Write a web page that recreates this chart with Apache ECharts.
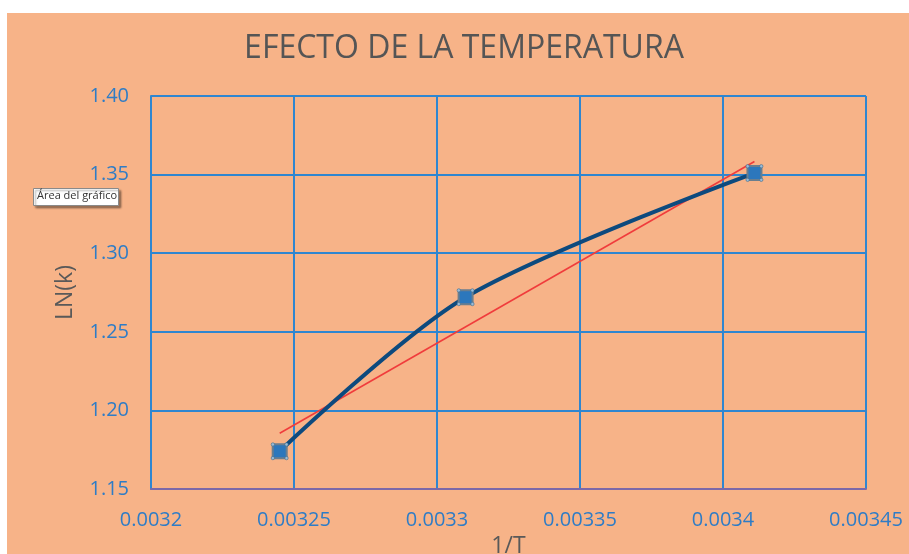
<!DOCTYPE html>
<html>
<head>
<meta charset="utf-8">
<script src="https://cdn.jsdelivr.net/npm/echarts@6/dist/echarts.min.js"></script>
<style>
  html, body { margin: 0; padding: 0; background: #ffffff; width: 909px; height: 554px; overflow: hidden; }
  #chart { position: absolute; left: 7px; top: 13px; width: 902px; height: 541px; }
</style>
</head>
<body>
<div id="chart"></div>
<script>
// Measured points: reciprocal temperature vs ln of the rate constant
const invT = [0.003245, 0.00331, 0.003411];
const lnK = [1.174, 1.272, 1.351];

// Axis tick values
const xTicks = [0.0032, 0.00325, 0.0033, 0.00335, 0.0034, 0.00345];
const yTicks = [1.15, 1.20, 1.25, 1.30, 1.35, 1.40];

const titleText = 'EFECTO DE LA TEMPERATURA';
const xName = '1/T';
const yName = 'LN(k)';
const tipText = 'Área del gráfico';

// Least-squares linear trend through the measured points
function linearFit(xs, ys) {
  const n = xs.length;
  const mx = xs.reduce((a, b) => a + b, 0) / n;
  const my = ys.reduce((a, b) => a + b, 0) / n;
  let sxy = 0, sxx = 0;
  for (let i = 0; i < n; i++) {
    sxy += (xs[i] - mx) * (ys[i] - my);
    sxx += (xs[i] - mx) * (xs[i] - mx);
  }
  const slope = sxy / sxx;
  return { slope, intercept: my - slope * mx };
}
const fit = linearFit(invT, lnK);
const xMin = Math.min(...invT), xMax = Math.max(...invT);
const trend = [xMin, xMax].map(x => [x, fit.intercept + fit.slope * x]);

const points = invT.map((x, i) => [x, lnK[i]]);

const xInterval = +(xTicks[1] - xTicks[0]).toFixed(8);
const yInterval = +(yTicks[1] - yTicks[0]).toFixed(8);

const font = '"Open Sans", "Noto Sans", sans-serif';
const gridBlue = '#2F86D0';
const labelBlue = '#2E7CC6';

// Four small corner handles around a selected marker
const c = (cx, cy) => `M${cx - 1.6},${cy}a1.6,1.6 0 1,0 3.2,0a1.6,1.6 0 1,0 -3.2,0Z`;
const handlePath = 'path://' + [c(0, 0), c(13, 0), c(0, 13), c(13, 13)].join(' ');

const chart = echarts.init(document.getElementById('chart'), null, { renderer: 'canvas', width: 902, height: 541 });
chart.setOption({
  backgroundColor: '#F7B388',
  animation: false,
  title: {
    text: titleText,
    left: 452,
    textAlign: 'center',
    top: 15,
    textStyle: { color: '#555555', fontSize: 32, fontWeight: 'normal', fontFamily: font }
  },
  grid: { left: 144, top: 83, width: 715, height: 393, containLabel: false, outerBoundsMode: 'none' },
  xAxis: {
    type: 'value',
    min: xTicks[0],
    max: xTicks[xTicks.length - 1],
    interval: xInterval,
    name: xName,
    nameLocation: 'middle',
    nameGap: 44,
    nameTextStyle: { color: '#595959', fontSize: 23, fontFamily: font },
    axisLine: { show: true, lineStyle: { color: '#7C68A8', width: 2 } },
    axisTick: { show: false },
    axisLabel: {
      color: labelBlue, fontSize: 20, fontFamily: font, margin: 21,
      formatter: v => String(parseFloat(v.toFixed(6)))
    },
    splitLine: { show: true, lineStyle: { color: gridBlue, width: 2 } }
  },
  yAxis: {
    type: 'value',
    min: yTicks[0],
    max: yTicks[yTicks.length - 1],
    interval: yInterval,
    name: yName,
    nameLocation: 'middle',
    nameGap: 74,
    nameRotate: 90,
    nameTextStyle: { color: '#595959', fontSize: 23, fontFamily: font },
    axisLine: { show: true, lineStyle: { color: gridBlue, width: 2 } },
    axisTick: { show: false },
    axisLabel: {
      color: labelBlue, fontSize: 20, fontFamily: font, margin: 22,
      formatter: v => v.toFixed(2)
    },
    splitLine: { show: true, lineStyle: { color: gridBlue, width: 2 } }
  },
  series: [
    {
      type: 'line',
      data: trend,
      showSymbol: false,
      lineStyle: { color: '#F03C3C', width: 1.6 },
      z: 3
    },
    {
      type: 'line',
      data: points,
      smooth: 0.3,
      symbol: 'rect',
      symbolSize: 14,
      itemStyle: { color: '#2C77BC', borderColor: '#6A7E8E', borderWidth: 2 },
      lineStyle: { color: '#0D4A7E', width: 4 },
      z: 4
    },
    {
      type: 'scatter',
      data: points,
      symbol: handlePath,
      symbolSize: 17,
      itemStyle: { color: '#A8CBEA', borderColor: '#3F6F93', borderWidth: 0.8 },
      silent: true,
      z: 5
    }
  ],
  graphic: [
    {
      type: 'rect',
      left: 26, top: 175,
      shape: { width: 85, height: 17 },
      style: {
        fill: '#ffffff', stroke: '#8a8a8a', lineWidth: 1,
        shadowColor: 'rgba(0,0,0,0.35)', shadowOffsetX: 2, shadowOffsetY: 2, shadowBlur: 2
      },
      z: 100
    },
    {
      type: 'text',
      left: 30, top: 177,
      style: { text: tipText, fill: '#333333', fontSize: 11, fontFamily: font },
      z: 101
    }
  ]
});
</script>
</body>
</html>
